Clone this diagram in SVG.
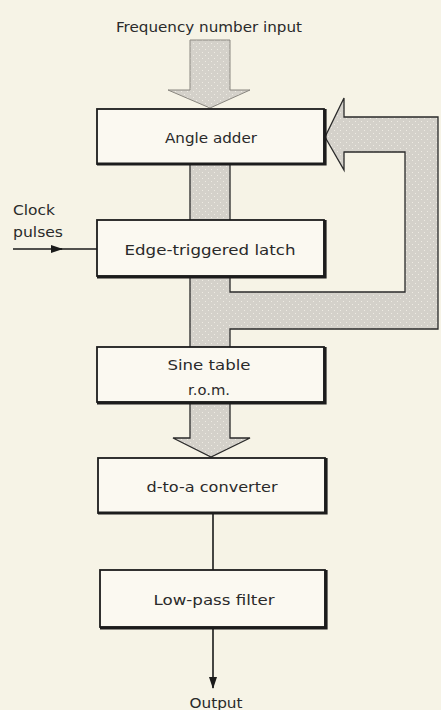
<svg xmlns="http://www.w3.org/2000/svg" width="441" height="710" viewBox="0 0 441 710">
  <defs>
    <pattern id="stip" width="6" height="6" patternUnits="userSpaceOnUse">
      <rect width="6" height="6" fill="#d4d1ca"/>
      <rect x="1" y="1" width="1" height="1" fill="#eeebe3"/>
      <rect x="4" y="4" width="1" height="1" fill="#eeebe3"/>
    </pattern>
    <marker id="ah" markerWidth="12" markerHeight="8" refX="11" refY="4" orient="auto" markerUnits="userSpaceOnUse">
      <path d="M0,0 L12,4 L0,8 Z" fill="#1a1a1a"/>
    </marker>
  </defs>
  <style>
    .bg { fill: #f6f3e6; }
    .box { fill: #fbf9f1; stroke: #1c1c1c; stroke-width: 1.8; }
    .shadow { fill: none; stroke: #1c1c1c; stroke-width: 3.2; }
    .band { fill: url(#stip); stroke: #2a2a2a; stroke-width: 1.3; stroke-linejoin: miter; }
    .line { fill: none; stroke: #1a1a1a; stroke-width: 1.6; }
    text { font-family: "DejaVu Sans", "Liberation Sans", sans-serif; font-size: 14px; fill: #2a2a2a; }
    .c { text-anchor: middle; }
  </style>
  <rect class="bg" x="0" y="0" width="441" height="710"/>

  <g id="connectors">
    <path class="band" d="M190,40 L230,40 L230,90 L250,90 L210,108 L168,90 L190,90 Z" style="stroke:#8a8780;stroke-width:1"/>
    <rect class="band" x="190" y="164" width="40" height="57"/>
    <path class="band" d="M190,276 L230,276 L230,292 L405,292 L405,152 L344,152 L344,170 L325,137 L344,98 L344,117 L438,117 L438,329 L230,329 L230,348 L190,348 Z"/>
    <path class="band" d="M190,402 L230,402 L230,438 L250,438 L211,457 L173,438 L190,438 Z"/>
    <line class="line" x1="13" y1="249" x2="62" y2="249" marker-end="url(#ah)"/>
    <line class="line" x1="60" y1="249" x2="97" y2="249"/>
    <line class="line" x1="213" y1="513" x2="213" y2="570"/>
    <line class="line" x1="213" y1="628" x2="213" y2="688" marker-end="url(#ah)"/>
  </g>

  <g id="angle-adder">
    <rect class="box" x="97" y="109" width="227" height="55"/>
    <polyline class="shadow" points="97,164 325,164 325,109"/>
    <text class="c" x="211" y="143" textLength="92" lengthAdjust="spacingAndGlyphs">Angle adder</text>
  </g>

  <g id="latch">
    <rect class="box" x="97" y="220" width="227" height="56"/>
    <polyline class="shadow" points="97,277 325,277 325,220"/>
    <text class="c" x="210" y="255" textLength="171" lengthAdjust="spacingAndGlyphs">Edge-triggered latch</text>
  </g>

  <g id="sine-rom">
    <rect class="box" x="97" y="347" width="227" height="55"/>
    <polyline class="shadow" points="97,403 325,403 325,347"/>
    <text class="c" x="209" y="370" textLength="83" lengthAdjust="spacingAndGlyphs">Sine table</text>
    <text class="c" x="209" y="395" textLength="42" lengthAdjust="spacingAndGlyphs">r.o.m.</text>
  </g>

  <g id="dac">
    <rect class="box" x="98" y="458" width="227" height="55"/>
    <polyline class="shadow" points="98,513 326,513 326,458"/>
    <text class="c" x="212" y="492" textLength="131" lengthAdjust="spacingAndGlyphs">d-to-a converter</text>
  </g>

  <g id="lowpass">
    <rect class="box" x="100" y="570" width="225" height="57"/>
    <polyline class="shadow" points="100,628 326,628 326,570"/>
    <text class="c" x="214" y="605" textLength="121" lengthAdjust="spacingAndGlyphs">Low-pass filter</text>
  </g>

  <g id="labels">
    <text class="c" x="209" y="32" textLength="186" lengthAdjust="spacingAndGlyphs">Frequency number input</text>
    <text x="13" y="215" textLength="42" lengthAdjust="spacingAndGlyphs">Clock</text>
    <text x="13" y="237" textLength="50" lengthAdjust="spacingAndGlyphs">pulses</text>
    <text class="c" x="216" y="708" textLength="53" lengthAdjust="spacingAndGlyphs">Output</text>
  </g>
</svg>
